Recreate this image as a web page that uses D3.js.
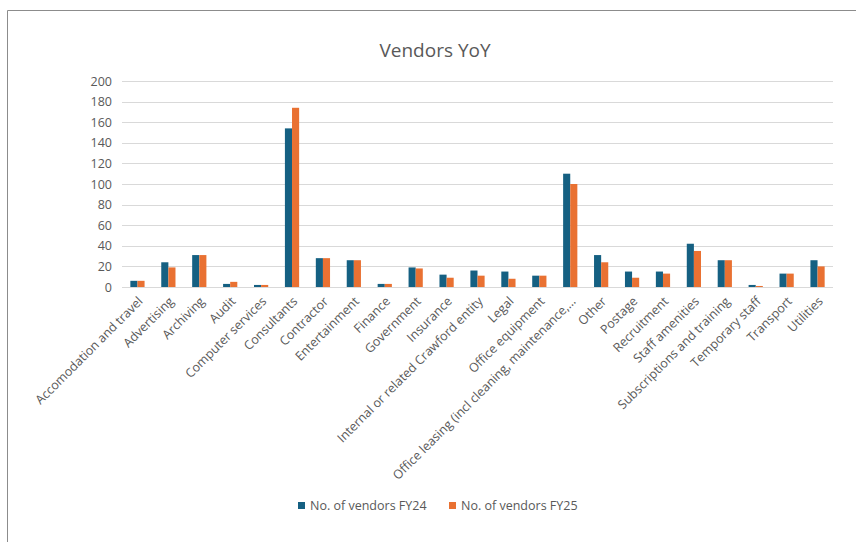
<!DOCTYPE html>
<html>
<head>
<meta charset="utf-8">
<script src="https://cdn.jsdelivr.net/npm/d3@7"></script>
<style>
  html, body { margin: 0; padding: 0; background: #fff; }
  svg { display: block; }
  text { font-family: "Open Sans", "Liberation Sans", sans-serif; }
</style>
</head>
<body>
<script>
const categories = [
  "Accomodation and travel", "Advertising", "Archiving", "Audit", "Computer services",
  "Consultants", "Contractor", "Entertainment", "Finance", "Government", "Insurance",
  "Internal or related Crawford entity", "Legal", "Office equipment",
  "Office leasing (incl cleaning, maintenance,\u2026", "Other", "Postage", "Recruitment",
  "Staff amenities", "Subscriptions and training", "Temporary staff", "Transport", "Utilities"
];
const fy24 = [6, 24, 31, 3, 2, 154, 28, 26, 3, 19, 12, 16, 15, 11, 110, 31, 15, 15, 42, 26, 2, 13, 26];
const fy25 = [6, 19, 31, 5, 2, 174, 28, 26, 3, 18, 9, 11, 8, 11, 100, 24, 9, 13, 35, 26, 1, 13, 20];
const seriesNames = ["No. of vendors FY24", "No. of vendors FY25"];
const yTicks = [0, 20, 40, 60, 80, 100, 120, 140, 160, 180, 200];
const title = "Vendors YoY";

const W = 856, H = 542;
const colors = ["#156082", "#E97132"];
const textColor = "#595959";
const plot = { left: 122, right: 833, top: 81, bottom: 287 };

const svg = d3.select("body").append("svg").attr("width", W).attr("height", H);

// frame
svg.append("path")
  .attr("d", `M7.5,${H} L7.5,10.5 L${W},10.5`)
  .attr("fill", "none").attr("stroke", "#8c8c8c").attr("stroke-width", 1);

const x = d3.scaleBand().domain(categories).range([plot.left, plot.right])
  .paddingInner(0.54).paddingOuter(0.27);
const xs = d3.scaleBand().domain([0, 1]).range([0, x.bandwidth()]);
const y = d3.scaleLinear().domain([0, 200]).range([plot.bottom, plot.top]);

// gridlines
svg.append("g").selectAll("line").data(yTicks.filter(d => d > 0)).join("line")
  .attr("x1", plot.left).attr("x2", plot.right)
  .attr("y1", d => Math.round(y(d)) + 0.5).attr("y2", d => Math.round(y(d)) + 0.5)
  .attr("stroke", "#d9d9d9").attr("stroke-width", 1);

// y axis labels
const yAxis = d3.axisLeft(y).tickValues(yTicks).tickSize(0).tickPadding(10);
const yg = svg.append("g").attr("transform", `translate(${plot.left},0)`).call(yAxis);
yg.select(".domain").remove();
yg.selectAll("text").attr("fill", textColor).style("font-size", "12.5px")
  .style("font-family", '"Open Sans", sans-serif');

// bars
const series = [fy24, fy25];
series.forEach((vals, si) => {
  svg.append("g").selectAll("rect").data(vals).join("rect")
    .attr("x", (d, i) => x(categories[i]) + xs(si))
    .attr("width", xs.bandwidth())
    .attr("y", d => y(d))
    .attr("height", d => y(0) - y(d))
    .attr("fill", colors[si]);
});

// x axis
const xAxis = d3.axisBottom(x).tickSize(0).tickPadding(0);
const xg = svg.append("g").attr("transform", `translate(0,${plot.bottom})`).call(xAxis);
xg.select(".domain").attr("stroke", "#d9d9d9").attr("d", `M${plot.left},0.5H${plot.right}`);
xg.selectAll("text")
  .attr("fill", textColor).style("font-size", "12.5px")
  .style("font-family", '"Open Sans", sans-serif')
  .attr("text-anchor", "end")
  .attr("dy", "0.35em")
  .attr("transform", "translate(3,12) rotate(-45)");

// title
svg.append("text").attr("x", 435).attr("y", 57).attr("text-anchor", "middle")
  .attr("fill", textColor).style("font-size", "19px").text(title);

// legend
const legendX = [298, 449];
seriesNames.forEach((n, i) => {
  const g = svg.append("g").attr("transform", `translate(${legendX[i]},502)`);
  g.append("rect").attr("width", 7).attr("height", 7).attr("fill", colors[i]);
  g.append("text").attr("x", 12).attr("y", 8).attr("fill", textColor)
    .style("font-size", "12.5px").text(n);
});
</script>
</body>
</html>
